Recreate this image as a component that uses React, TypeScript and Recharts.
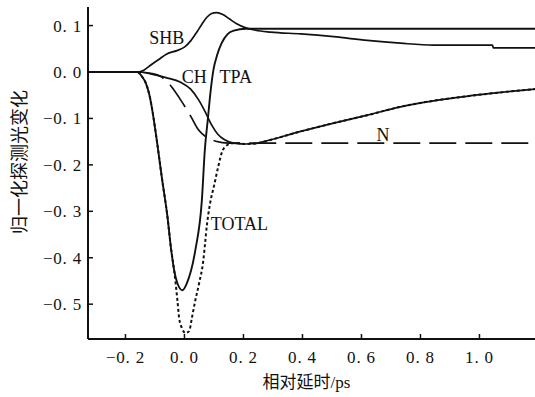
import React from 'react';
import { LineChart, Line, XAxis, YAxis, ReferenceDot } from 'recharts';

// 横轴刻度（相对延时 ps）与纵轴刻度
const X_TICKS = [-0.2, 0, 0.2, 0.4, 0.6, 0.8, 1.0];
const Y_TICKS = [-0.5, -0.4, -0.3, -0.2, -0.1, 0, 0.1];

// 各曲线：[延时 ps, 归一化变化]
const TPA: [number, number][] = [
  [-0.33, 0], [-0.158, 0], [-0.145, -0.009], [-0.131, -0.024], [-0.119, -0.049],
  [-0.111, -0.075], [-0.094, -0.146], [-0.077, -0.226], [-0.058, -0.31], [-0.045, -0.383],
  [-0.035, -0.427], [-0.024, -0.455], [-0.007, -0.47], [0.008, -0.455], [0.037, -0.383],
  [0.059, -0.276], [0.069, -0.168], [0.079, -0.103], [0.089, -0.039], [0.098, 0.004],
  [0.111, 0.037], [0.126, 0.062], [0.147, 0.082], [0.167, 0.089], [0.208, 0.093],
  [1.2, 0.093],
];

const SHB: [number, number][] = [
  [-0.33, 0], [-0.158, 0], [-0.138, 0.004], [-0.114, 0.015], [-0.087, 0.027],
  [-0.06, 0.039], [-0.026, 0.046], [0.001, 0.054], [0.021, 0.067], [0.042, 0.086],
  [0.059, 0.103], [0.076, 0.118], [0.092, 0.126], [0.109, 0.128], [0.13, 0.124],
  [0.153, 0.114], [0.177, 0.104], [0.208, 0.095], [0.241, 0.09], [0.292, 0.086],
  [0.394, 0.082], [0.506, 0.076], [0.62, 0.068], [0.732, 0.062], [0.844, 0.058],
  [1.044, 0.058], [1.047, 0.052], [1.2, 0.052],
];

const CH: [number, number][] = [
  [-0.33, 0], [-0.158, 0], [-0.114, -0.004], [-0.063, -0.012], [-0.013, -0.022],
  [0.021, -0.037], [0.048, -0.06], [0.072, -0.088], [0.092, -0.114], [0.113, -0.134],
  [0.136, -0.146], [0.167, -0.153], [0.208, -0.155], [0.242, -0.154], [0.269, -0.15],
  [0.394, -0.128], [0.506, -0.11], [0.62, -0.093], [0.732, -0.075], [0.844, -0.062],
  [0.96, -0.052], [1.071, -0.044], [1.2, -0.036],
];

const N_CURVE: [number, number][] = [
  [-0.158, 0], [-0.114, -0.003], [-0.08, -0.01], [-0.046, -0.03], [-0.013, -0.06],
  [0.021, -0.095], [0.048, -0.125], [0.076, -0.141], [0.106, -0.149], [0.15, -0.153],
  [1.2, -0.153],
];

const TOTAL: [number, number][] = [
  [-0.158, 0], [-0.145, -0.009], [-0.131, -0.024], [-0.119, -0.049], [-0.111, -0.075],
  [-0.094, -0.146], [-0.077, -0.226], [-0.058, -0.31], [-0.045, -0.383], [-0.035, -0.427],
  [-0.024, -0.491], [-0.018, -0.53], [-0.009, -0.551], [0.004, -0.562], [0.016, -0.558],
  [0.025, -0.53], [0.037, -0.491], [0.05, -0.454], [0.064, -0.405], [0.07, -0.368],
  [0.076, -0.33], [0.086, -0.286], [0.101, -0.243], [0.114, -0.205], [0.13, -0.168],
  [0.15, -0.156], [0.174, -0.153], [0.208, -0.155], [0.242, -0.154], [0.269, -0.15],
  [0.394, -0.128], [0.506, -0.11], [0.62, -0.093], [0.732, -0.075], [0.844, -0.062],
  [0.96, -0.052], [1.071, -0.044], [1.2, -0.036],
];

// 曲线标注
const CURVE_LABELS = [
  { text: 'SHB', x: -0.06, y: 0.074 },
  { text: 'CH', x: 0.033, y: -0.01 },
  { text: 'TPA', x: 0.174, y: -0.01 },
  { text: 'N', x: 0.673, y: -0.135 },
  { text: 'TOTAL', x: 0.186, y: -0.326 },
];

const X_DOMAIN: [number, number] = [-0.327, 1.195];
const Y_DOMAIN: [number, number] = [-0.575, 0.14];

const SERIF = "'Liberation Serif', 'Noto Sans CJK SC', serif";
const INK = '#111';

const toRows = (pts: [number, number][]) => pts.map(([x, y]) => ({ x, y }));

// "0. 1" 形式的刻度
function fmtTick(v: number): string {
  const s = Math.abs(v).toFixed(1).replace('.', '. ');
  return (v < -1e-9 ? '\u2212' : '') + s;
}

function XTitle(props: any) {
  const vb = props.viewBox;
  return (
    <text x={vb.x + vb.width / 2 - 6} y={vb.y + 49} textAnchor="middle" fontSize={17} fontFamily={SERIF} fill={INK}>
      相对延时/ps
    </text>
  );
}

function YTitle() {
  return (
    <text
      x={20}
      y={162}
      transform="rotate(-90 20 162)"
      textAnchor="middle"
      dominantBaseline="central"
      fontSize={18}
      fontFamily={SERIF}
      fill={INK}
    >
      归一化探测光变化
    </text>
  );
}

export default function App() {
  const axisLine = { stroke: INK, strokeWidth: 2 };
  const tickLine = { stroke: INK, strokeWidth: 1.5 };
  const tick = { fill: INK, fontSize: 17, fontFamily: SERIF, letterSpacing: 0.8 };
  const lineProps = {
    xAxisId: 'b',
    yAxisId: 'l',
    type: 'monotone' as const,
    dataKey: 'y',
    dot: false,
    activeDot: false,
    isAnimationActive: false,
    stroke: INK,
  };

  return (
    <div style={{ position: 'absolute', left: 0, top: 0, width: 535, height: 397, overflow: 'hidden', background: '#fff' }}>
      <LineChart width={545} height={397} margin={{ top: 7, right: 8, bottom: 0, left: 0 }}>
        <XAxis
          xAxisId="b"
          type="number"
          dataKey="x"
          domain={X_DOMAIN}
          ticks={X_TICKS}
          interval={0}
          allowDataOverflow
          height={58}
          tickSize={-5}
          tickMargin={17}
          tickFormatter={fmtTick}
          axisLine={axisLine}
          tickLine={tickLine}
          tick={tick}
          label={<XTitle />}
        />
        <XAxis
          xAxisId="t"
          orientation="top"
          type="number"
          dataKey="x"
          domain={X_DOMAIN}
          ticks={X_TICKS}
          interval={0}
          allowDataOverflow
          height={0}
          tickSize={-5}
          tickFormatter={() => ''}
          axisLine={axisLine}
          tickLine={tickLine}
        />
        <YAxis
          yAxisId="l"
          type="number"
          domain={Y_DOMAIN}
          ticks={Y_TICKS}
          interval={0}
          allowDataOverflow
          width={88}
          tickSize={-5}
          tickMargin={11}
          tickFormatter={fmtTick}
          axisLine={axisLine}
          tickLine={tickLine}
          tick={tick}
          label={<YTitle />}
        />
        <YAxis
          yAxisId="r"
          orientation="right"
          type="number"
          domain={Y_DOMAIN}
          ticks={Y_TICKS}
          interval={0}
          allowDataOverflow
          width={0}
          tickSize={-5}
          tickFormatter={() => ''}
          axisLine={axisLine}
          tickLine={tickLine}
        />

        {/* 虚线 N 放在最底层 */}
        <Line {...lineProps} data={toRows(N_CURVE)} strokeWidth={1.7} strokeDasharray="27 9" name="N" />
        <Line {...lineProps} data={toRows(SHB)} strokeWidth={1.7} name="SHB" />
        <Line {...lineProps} data={toRows(TPA)} strokeWidth={1.9} name="TPA" />
        <Line {...lineProps} data={toRows(CH)} strokeWidth={1.7} name="CH" />
        <Line {...lineProps} data={toRows(TOTAL)} strokeWidth={2} strokeDasharray="3 2.5" name="TOTAL" />

        {CURVE_LABELS.map((l) => (
          <ReferenceDot
            key={l.text}
            xAxisId="b"
            yAxisId="l"
            x={l.x}
            y={l.y}
            r={0}
            fill="none"
            stroke="none"
            label={{ value: l.text, position: 'center', fontSize: 18, fontFamily: SERIF, fill: INK }}
          />
        ))}
      </LineChart>
    </div>
  );
}
